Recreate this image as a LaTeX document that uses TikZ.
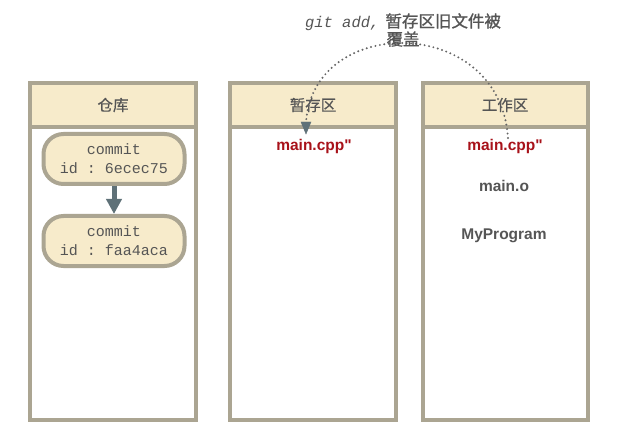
\documentclass[tikz,border=0pt]{standalone}
\usepackage{fontspec}
\setsansfont{Liberation Sans}[Ligatures=TeXOff]
\setmonofont{Liberation Mono}
\newfontfamily\cjk{Noto Sans CJK SC}[FakeBold=0.4]
\newfontfamily\cjkb{Noto Sans CJK SC}[FakeBold=1.2]
\usetikzlibrary{arrows.meta}
\definecolor{frame}{HTML}{ABA592}
\definecolor{cream}{HTML}{F7EBCB}
\definecolor{txt}{HTML}{555555}
\definecolor{fred}{HTML}{A8121A}
\definecolor{slate}{HTML}{5F7178}
\definecolor{dotc}{HTML}{666666}
\tikzset{
  colbox/.style={draw=frame, line width=4pt, fill=white},
  colhead/.style={draw=frame, line width=4pt, fill=cream},
  headtxt/.style={text=txt, font=\cjk\fontsize{15.5}{17}\selectfont},
  commitbox/.style={draw=frame, line width=4pt, fill=cream, rounded corners=20pt, minimum width=141pt, minimum height=50pt, align=center, text=txt, inner sep=0pt, font=\ttfamily\fontsize{15}{19}\selectfont},
  redfile/.style={text=fred, font=\sffamily\bfseries\fontsize{15.5}{17}\selectfont},
  greyfile/.style={text=txt, font=\sffamily\bfseries\fontsize{15.5}{17}\selectfont},
}
\begin{document}
\begin{tikzpicture}[x=1pt,y=-1pt]
\useasboundingbox (0,0) rectangle (631,446);
% columns
\draw[colbox] (30,83) rectangle (196,420);
\draw[colhead] (30,83) rectangle (196,127);
\draw[colbox] (230,83) rectangle (396,420);
\draw[colhead] (230,83) rectangle (396,127);
\draw[colbox] (423,83) rectangle (588,420);
\draw[colhead] (423,83) rectangle (588,127);
\node[headtxt] (h1) at (113,105) {仓库};
\node[headtxt] (h2) at (313,105) {暂存区};
\node[headtxt] (h3) at (505,105) {工作区};
% commits
\node[commitbox] (c1) at (114,159) {commit\\id : 6ecec75};
\node[commitbox] (c2) at (114,241) {commit\\id : faa4aca};
\draw[slate, line width=5pt, -{Triangle[length=15pt,width=15pt]}] (c1.south) -- (c2.north);
% files
\node[redfile] (s1) at (314,146) {main.cpp"};
\node[redfile] (w1) at (505,146) {main.cpp"};
\node[greyfile] (w2) at (504,186) {main.o};
\node[greyfile] (w3) at (504,236) {MyProgram};
% dotted connector
\coordinate (from) at (508,138);
\coordinate (to) at (306,123);
\draw[dotc, line width=2.2pt, dash pattern=on 0pt off 4.5pt, line cap=round] (from) .. controls (500,14) and (312,14) .. (to);
\draw[slate, fill=slate] ([yshift=-11pt]to) -- +(-5,-12) -- +(5,-12) -- cycle;
% label
\node[text=txt, align=center, inner sep=0pt] (lab) at (403,30) {{\ttfamily\itshape\fontsize{15.5}{20}\selectfont git add,}\hspace{6pt}{\cjkb\fontsize{16.5}{19}\selectfont 暂存区旧文件被}\\{\cjkb\fontsize{16.5}{19}\selectfont 覆盖}};
\end{tikzpicture}
\end{document}
